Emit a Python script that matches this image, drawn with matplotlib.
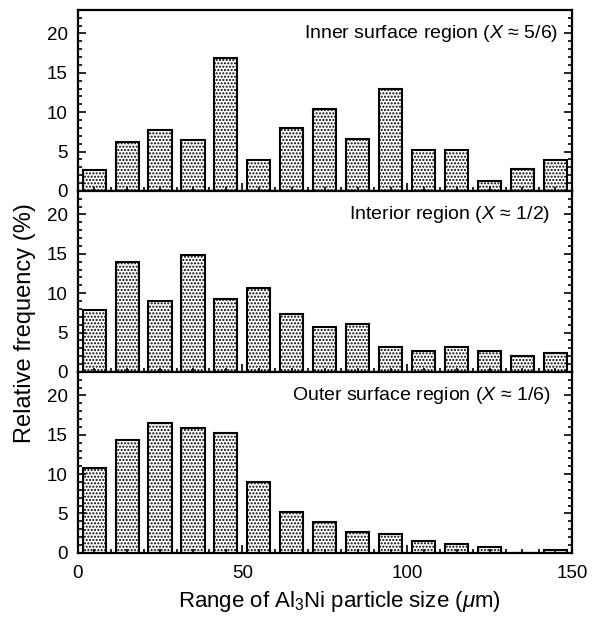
import matplotlib
matplotlib.use("Agg")
import matplotlib.pyplot as plt
from matplotlib.ticker import MultipleLocator
import numpy as np

plt.rcParams['font.family'] = ['Liberation Sans', 'DejaVu Sans']
plt.rcParams['mathtext.fontset'] = 'custom'
plt.rcParams['mathtext.rm'] = 'Liberation Sans'
plt.rcParams['mathtext.it'] = 'Liberation Sans:italic'
plt.rcParams['hatch.linewidth'] = 1.0

# bin centres (um) and relative frequencies (%)
bin_centres = [5, 15, 25, 35, 45, 55, 65, 75, 85, 95, 105, 115, 125, 135, 145]
inner = [2.7, 6.25, 7.7, 6.4, 16.9, 3.9, 8.0, 10.4, 6.6, 13.0, 5.2, 5.2, 1.2, 2.75, 3.95]
interior = [7.85, 13.9, 9.05, 14.8, 9.2, 10.6, 7.3, 5.75, 6.1, 3.2, 2.6, 3.2, 2.6, 2.05, 2.45]
outer = [10.8, 14.4, 16.5, 15.9, 15.2, 9.0, 5.2, 3.9, 2.7, 2.35, 1.5, 1.15, 0.75, 0.0, 0.3]

panels = [
    (inner, "Inner surface region ($X$ ≈ 5/6)", 146),
    (interior, "Interior region ($X$ ≈ 1/2)", 143.5),
    (outer, "Outer surface region ($X$ ≈ 1/6)", 143.5),
]

fig, axes = plt.subplots(3, 1, sharex=True, figsize=(6.02, 6.17), dpi=100)
fig.subplots_adjust(left=0.129, right=0.950, top=0.984, bottom=0.104, hspace=0)

for ax, (vals, label, xt) in zip(axes, panels):
    ax.bar(bin_centres, vals, width=7, color="white", edgecolor="black",
           linewidth=1.5, hatch=".....")
    ax.set_xlim(0, 150)
    ax.set_ylim(0, 23)
    ax.yaxis.set_major_locator(MultipleLocator(5))
    ax.yaxis.set_minor_locator(MultipleLocator(1))
    ax.xaxis.set_major_locator(MultipleLocator(50))
    ax.xaxis.set_minor_locator(MultipleLocator(5))
    ax.tick_params(which="both", direction="in", left=True, right=True,
                   top=False, bottom=True, labelsize=13.5, width=1.2)
    ax.tick_params(which="major", length=6)
    ax.tick_params(which="minor", length=3)
    ax.tick_params(axis="y", pad=7)
    ax.tick_params(axis="x", pad=9)
    for s in ax.spines.values():
        s.set_linewidth(1.6)
    ax.text(xt, 20, label, ha="right", va="center", fontsize=14)

axes[-1].set_xlabel("Range of Al$_3$Ni particle size ($\\mu$m)", fontsize=16)
axes[-1].xaxis.set_label_coords(0.529, -0.2)
fig.text(0.0415, 0.4765, "Relative frequency (%)", rotation=90,
         ha="center", va="center", fontsize=17)

fig.savefig("out.png", dpi=100)
